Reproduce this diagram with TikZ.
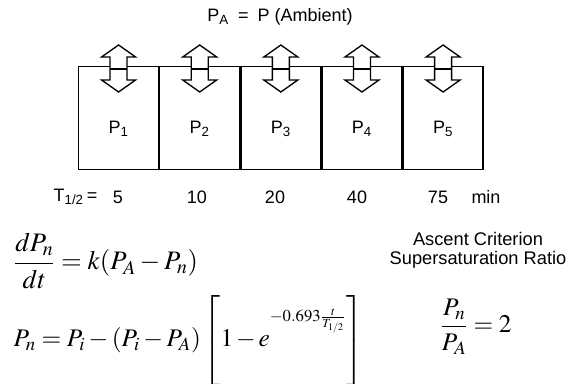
\documentclass[tikz,border=0pt]{standalone}
\usepackage{amsmath}
\usepackage{mathptmx}
\usepackage[no-math]{fontspec}
\setmainfont{Liberation Sans}
\usetikzlibrary{positioning}

\begin{document}
\begin{tikzpicture}[x=0.75pt, y=-0.75pt, line width=1pt,
    cell/.style={draw, minimum width=59.85pt, minimum height=77.25pt, inner sep=0pt, anchor=north west},
    lbl/.style={font=\fontsize{13.5}{16}\selectfont, inner sep=0pt},
    eqn/.style={font=\fontsize{19}{23}\selectfont, inner sep=0pt, anchor=base west},
    vent/.style={draw, fill=white}]
    \useasboundingbox (0,0) rectangle (571,384);
    % Ambient pressure
    \node[lbl] (ambient) at (280,17) {P\textsubscript{A}\enspace=\enspace P (Ambient)};
    % Tissue compartments
    \node[cell] (c1) at (78,66) {};
    \foreach \i [remember=\i as \j (initially 1)] in {2,...,5}
        \node[cell, right=0pt of c\j] (c\i) {};
    \foreach \i in {1,...,5} {
        \node[lbl] (p\i) at ([yshift=-8pt]c\i.center) {P\textsubscript{\i}};
        % Exchange with ambient
        \begin{scope}[shift={(c\i.north)}]
            \draw[vent] (0,-21) -- (17,-9) -- (8.5,-9) -- (8.5,14) -- (17,14) -- (0,26)
                -- (-17,14) -- (-8.5,14) -- (-8.5,-9) -- (-17,-9) -- cycle;
            \draw (-8.5,3) -- (8.5,3);
        \end{scope}
    }
    % Half times
    \node[lbl, anchor=east] (thalf) at (98,197) {T\textsubscript{1/2}\,=};
    \foreach \t/\x in {5/118, 10/197, 20/275, 40/357, 75/438}
        \node[lbl] (t\t) at (\x,197) {\t};
    \node[lbl] (unit) at (486,197) {min};
    % Equations
    \node[eqn, font=\fontsize{20}{24}\selectfont] (rate) at (13,270) {$\dfrac{dP_n}{dt}=k(P_A-P_n)$};
    \node[eqn] (decay) at (13,347) {$P_n=P_i-(P_i-P_A)\left[\vrule height 38.5pt width 0pt
        1\mkern2mu{-}\mkern2mu e^{\mbox{\raisebox{12pt}{\fontsize{12.5}{13}\selectfont$-0.693\frac{t}{T_{1/2}}$}}}\right]$};
    % Ascent criterion
    \node[lbl, align=center, font=\fontsize{13.7}{14.3}\selectfont] (criterion) at (478,250) {Ascent Criterion\\Supersaturation Ratio};
    \node[eqn, anchor=base] (ratio) at (476,333) {$\dfrac{P_n}{P_A}=2$};
\end{tikzpicture}
\end{document}
